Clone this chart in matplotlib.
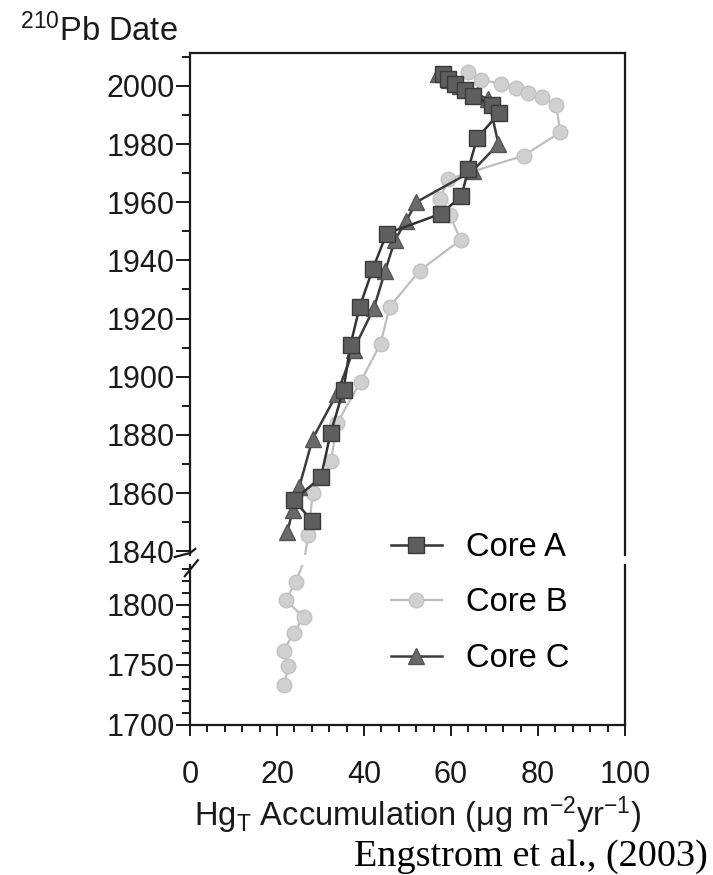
import matplotlib
matplotlib.use("Agg")
import matplotlib.pyplot as plt
from matplotlib.ticker import MultipleLocator

plt.rcParams["font.family"] = ["Liberation Sans", "DejaVu Sans"]
plt.rcParams["mathtext.fontset"] = "custom"
plt.rcParams["mathtext.rm"] = "Liberation Sans"
plt.rcParams["mathtext.it"] = "Liberation Sans:italic"

# Hg accumulation (ug m-2 yr-1) vs 210Pb date
core_a_hg = [58.2, 59.3, 61.0, 63.2, 65.0, 69.5, 71.0, 66.0, 64.0, 62.4,
             57.6, 45.2, 42.0, 39.0, 36.9, 35.3, 32.3, 30.1, 23.9, 28.0]
core_a_yr = [2004, 2002.5, 2000.5, 1998.5, 1996.5, 1993.5, 1990.5, 1982, 1971.5, 1962,
             1956, 1949.2, 1937, 1924, 1911, 1895.6, 1880.5, 1865.4, 1857.6, 1850.5]

core_b_hg = [64.0, 67.0, 71.5, 74.9, 77.8, 80.9, 84.2, 85.1, 76.7, 59.4,
             57.4, 59.7, 62.2, 52.8, 45.9, 43.8, 39.2, 33.8, 32.4, 28.2,
             27.2, 24.3, 22.0, 26.1, 23.9, 21.5, 22.6, 21.6]
core_b_yr = [2004.6, 2002, 2000.8, 1999.2, 1997.7, 1996, 1993.5, 1984, 1976, 1968,
             1961, 1955.7, 1947, 1936.5, 1924, 1911.4, 1898.2, 1884, 1871, 1860,
             1845.6, 1819, 1804, 1790, 1777, 1762, 1749, 1733]

core_c_hg = [57.0, 59.5, 62.0, 66.0, 68.6, 70.9, 65.0, 52.0, 49.7, 47.1,
             44.9, 42.3, 37.6, 33.8, 28.2, 25.1, 23.6, 22.4]
core_c_yr = [2004, 2002, 2000, 1997, 1995.5, 1980, 1970.8, 1960, 1953.5, 1947,
             1936.5, 1923.7, 1909.3, 1894.2, 1878.7, 1862, 1854.2, 1846.6]

W, H = 713, 875
fig = plt.figure(figsize=(W / 100, H / 100), dpi=100)


def px_box(x0, y0, x1, y1):
    return [x0 / W, 1 - y1 / H, (x1 - x0) / W, (y1 - y0) / H]


ax_top = fig.add_axes(px_box(190, 53, 625, 555))
ax_bot = fig.add_axes(px_box(190, 565, 625, 725), sharex=ax_top)

styles = [
    ("Core B", core_b_hg, core_b_yr,
     dict(color="#bebebe", lw=1.6, marker="o", ms=10.5, mfc="#d0d0d0", mec="#c2c2c2")),
    ("Core C", core_c_hg, core_c_yr,
     dict(color="#3c3c3c", lw=1.8, marker="^", ms=11.5, mfc="#6a6a6a", mec="#555555")),
    ("Core A", core_a_hg, core_a_yr,
     dict(color="#333333", lw=1.8, marker="s", ms=11, mfc="#5e5e5e", mec="#3a3a3a")),
]

handles = {}
for label, xs, ys, kw in styles:
    for ax in (ax_top, ax_bot):
        ln, = ax.plot(xs, ys, label=label, **kw)
        if ax is ax_top:
            handles[label] = ln

ax_top.set_ylim(1838.7, 2011.3)
ax_bot.set_ylim(1700, 1833.3)
ax_top.set_xlim(0, 100)

for ax in (ax_top, ax_bot):
    for s in ax.spines.values():
        s.set_linewidth(1.6)
        s.set_color("#1a1a1a")
    ax.tick_params(which="both", direction="out", width=1.4, colors="#1a1a1a",
                   labelsize=22, labelcolor="#1a1a1a", pad=1)
    ax.tick_params(axis="y", which="major", length=10)
    ax.tick_params(axis="y", which="minor", length=6)
    ax.tick_params(axis="x", which="major", length=8)
    ax.tick_params(axis="x", which="minor", length=5)

ax_top.spines["bottom"].set_visible(False)
ax_bot.spines["top"].set_visible(False)
ax_top.tick_params(axis="x", which="both", bottom=False, labelbottom=False)

ax_top.yaxis.set_major_locator(MultipleLocator(20))
ax_top.yaxis.set_minor_locator(MultipleLocator(10))
ax_bot.yaxis.set_major_locator(MultipleLocator(50))
ax_bot.yaxis.set_minor_locator(MultipleLocator(10))
ax_bot.xaxis.set_major_locator(MultipleLocator(20))
ax_bot.xaxis.set_minor_locator(MultipleLocator(4))
ax_bot.tick_params(axis="x", pad=17)

# axis break marks on the left spine
bk = dict(color="#1a1a1a", lw=1.6, clip_on=False)
ax_top.plot([-0.035, 0.0, 0.012], [-0.004, 0.004, 0.012], transform=ax_top.transAxes, **bk)
ax_bot.plot([-0.012, 0.018], [0.93, 1.03], transform=ax_bot.transAxes, **bk)

fig.text(20 / W, 1 - 31 / H, r"$^{210}$Pb Date", fontsize=23.5, va="center", ha="left",
         color="#1a1a1a")
fig.text(418 / W, 1 - 815 / H, r"Hg$_\mathrm{T}$ Accumulation ($\mathrm{\mu}$g m$^{-2}$yr$^{-1}$)",
         fontsize=23.5, ha="center", va="center", color="#1a1a1a")
fig.text(708 / W, 1 - 857 / H, "Engstrom et al., (2003)", family="Liberation Serif",
         fontsize=27.5, ha="right", va="center", color="black")

order = ["Core A", "Core B", "Core C"]
fig.legend([handles[k] for k in order], order, loc="upper left",
           bbox_to_anchor=(391 / W, 1 - 532 / H), frameon=False, fontsize=23.5,
           handlelength=1.55, handletextpad=0.75, labelspacing=0.75, borderaxespad=0,
           borderpad=0)

fig.savefig("out.png", dpi=100)
